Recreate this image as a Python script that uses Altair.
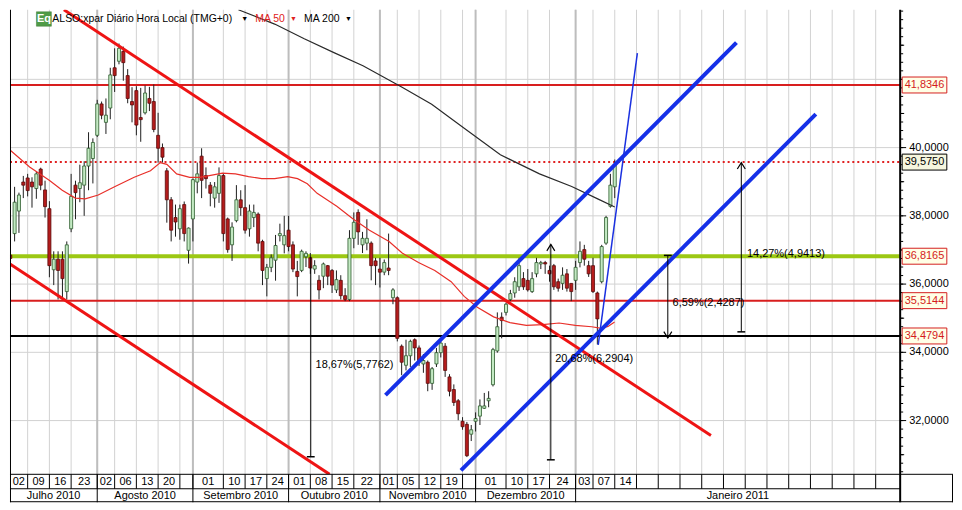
import altair as alt
import pandas as pd
import numpy as np

# ---------------- values ----------------
# trading-day index: 0 = 1 Jul 2010 ... 141 = 14 Jan 2011
candle_day = list(range(2, 142))
candle_open = [36.85, 37.48, 38.14, 38.99, 39.11, 38.99, 38.80, 39.37, 38.76, 38.21,
               36.42, 36.73, 36.73, 35.78, 37.62, 38.90, 38.80, 38.90, 39.46, 39.68,
               40.36, 41.28, 40.74, 41.16, 42.34, 42.53, 42.82, 42.11, 41.35, 41.67,
               40.88, 41.02, 41.44, 41.35, 40.36, 40.00, 39.32, 38.47, 37.95, 37.62,
               38.33, 36.99, 37.91, 38.99, 39.75, 39.18, 38.90, 38.52, 38.66, 39.18,
               37.91, 37.15, 37.86, 38.47, 38.24, 37.62, 37.95, 38.05, 37.25, 36.16,
               36.49, 36.70, 37.42, 37.15, 37.58, 37.15, 36.37, 36.40, 36.80, 36.77,
               36.44, 36.11, 36.23, 36.54, 36.40, 35.83, 36.11, 35.66, 35.55, 37.34,
               38.10, 37.15, 37.20, 37.20, 36.68, 36.44, 36.35, 36.47, 35.60, 35.60,
               34.18, 33.62, 33.90, 34.37, 34.13, 33.66, 33.71, 33.09, 33.66, 33.99,
               34.18, 33.28, 32.91, 32.58, 31.98, 31.89, 31.60, 31.98, 32.13, 32.36,
               32.58, 33.05, 34.04, 35.03, 35.17, 35.55, 35.74, 35.92, 36.16, 36.11,
               35.78, 36.30, 36.59, 36.63, 36.40, 36.54, 36.07, 36.02, 36.30, 36.02,
               36.11, 36.63, 37.01, 36.54, 36.54, 35.74, 36.07, 37.20, 38.28, 38.85]
candle_high = [37.00, 38.85, 38.68, 39.17, 39.23, 39.13, 39.30, 39.41, 39.03, 38.43,
               36.96, 36.96, 36.96, 37.25, 39.23, 39.03, 39.50, 39.60, 40.45, 40.27,
               41.40, 41.35, 41.44, 42.34, 42.91, 43.05, 42.96, 42.30, 41.77, 41.80,
               41.75, 41.82, 41.78, 41.85, 41.02, 40.12, 39.40, 38.55, 38.33, 38.33,
               38.42, 37.66, 39.09, 39.56, 39.98, 39.42, 38.99, 38.99, 39.42, 39.23,
               37.95, 37.81, 38.90, 38.75, 38.90, 38.33, 38.33, 38.10, 37.30, 36.59,
               36.87, 37.44, 37.77, 38.00, 38.00, 37.25, 36.68, 37.01, 36.96, 36.91,
               36.70, 36.26, 36.63, 36.56, 36.44, 36.40, 36.26, 35.88, 37.58, 38.10,
               38.19, 37.53, 37.90, 37.25, 36.77, 36.77, 36.72, 37.48, 35.88, 35.64,
               34.23, 34.37, 34.37, 34.41, 34.20, 33.95, 33.76, 33.57, 34.13, 34.32,
               34.27, 33.36, 33.06, 32.63, 32.10, 31.96, 31.87, 32.24, 32.62, 32.81,
               32.86, 34.13, 35.17, 35.17, 35.45, 35.83, 36.20, 36.77, 36.35, 36.44,
               36.35, 36.77, 36.68, 36.68, 36.54, 36.59, 36.16, 36.49, 36.44, 36.02,
               36.68, 37.25, 37.15, 36.68, 36.77, 35.78, 37.15, 38.00, 39.23, 39.65]
candle_low = [36.60, 37.25, 37.50, 38.52, 38.57, 38.24, 38.50, 38.75, 37.95, 36.20,
              35.97, 35.55, 35.62, 35.55, 37.52, 37.90, 38.40, 38.00, 38.75, 38.95,
              40.31, 40.83, 40.40, 40.83, 41.63, 42.44, 41.96, 41.30, 40.74, 40.36,
              40.17, 40.97, 41.07, 40.45, 39.56, 39.56, 37.80, 37.25, 37.39, 37.30,
              37.25, 36.60, 37.25, 38.66, 38.52, 38.80, 38.28, 38.24, 38.38, 37.25,
              36.92, 36.68, 37.81, 38.00, 37.48, 37.39, 37.67, 36.96, 35.97, 35.64,
              36.35, 36.10, 37.25, 36.90, 36.96, 36.35, 35.64, 36.35, 36.50, 36.30,
              36.30, 35.55, 35.88, 35.97, 35.74, 35.74, 35.55, 35.50, 35.50, 37.05,
              37.15, 36.91, 36.99, 36.11, 35.97, 35.90, 36.26, 36.26, 35.41, 34.32,
              33.33, 33.47, 33.57, 33.76, 33.60, 33.40, 32.86, 32.90, 33.57, 33.85,
              33.28, 32.71, 32.43, 32.01, 31.73, 30.93, 31.40, 31.68, 31.87, 32.34,
              32.39, 33.00, 33.99, 34.41, 35.08, 35.50, 35.60, 35.80, 35.83, 35.78,
              35.74, 36.20, 36.44, 36.30, 36.07, 35.83, 35.78, 35.83, 35.78, 35.50,
              35.83, 36.49, 36.54, 36.21, 35.74, 34.23, 36.02, 37.15, 38.24, 38.52]
candle_close = [36.75, 38.40, 38.61, 38.90, 38.74, 38.85, 39.23, 38.90, 38.27, 36.54,
                36.73, 36.40, 36.16, 37.15, 38.57, 38.68, 38.97, 39.46, 39.98, 40.15,
                41.28, 40.95, 40.95, 42.13, 42.11, 42.91, 42.49, 41.44, 41.25, 40.66,
                40.82, 41.60, 41.30, 40.53, 39.98, 39.72, 38.47, 37.58, 37.82, 38.21,
                37.48, 37.64, 39.06, 39.23, 39.04, 39.09, 38.66, 38.85, 39.18, 37.48,
                37.01, 37.67, 38.47, 38.24, 37.58, 38.14, 38.10, 37.20, 36.40, 36.49,
                36.77, 37.13, 37.48, 37.42, 37.10, 36.44, 36.22, 36.96, 36.90, 36.47,
                36.54, 35.83, 36.59, 36.23, 35.97, 36.13, 35.66, 35.55, 37.34, 37.81,
                37.53, 37.34, 37.34, 36.54, 36.54, 36.35, 36.63, 36.40, 35.83, 34.41,
                33.71, 33.90, 34.32, 34.13, 33.76, 33.76, 33.09, 33.52, 33.99, 34.27,
                33.47, 32.86, 32.53, 32.20, 31.82, 30.97, 31.73, 32.06, 32.43, 32.43,
                32.65, 34.08, 34.75, 34.93, 35.41, 35.72, 36.07, 36.54, 35.92, 35.83,
                36.16, 36.63, 36.63, 36.59, 36.30, 35.92, 35.88, 36.26, 35.88, 35.78,
                36.49, 36.96, 36.73, 36.30, 35.78, 34.98, 37.10, 37.95, 38.90, 39.51]

ma50_day = [1.94, 6.45, 10.96, 13.95, 16.97, 19.23, 22.23, 25.99, 30.50, 34.24,
            36.50, 38.01, 40.26, 43.26, 45.52, 47.77, 50.79, 53.79, 56.79, 59.81,
            62.80, 65.80, 68.06, 70.31, 72.57, 77.08, 80.84, 84.60, 89.11, 92.11,
            95.87, 99.62, 103.38, 106.38, 109.40, 113.15, 116.90, 120.67, 124.40, 128.20,
            131.94, 135.69, 137.95, 139.45, 140.96]
ma50_val = [39.93, 39.43, 39.04, 38.75, 38.52, 38.50, 38.61, 38.85, 39.13, 39.32,
            39.56, 39.51, 39.23, 39.13, 39.13, 39.18, 39.25, 39.23, 39.15, 39.09,
            39.09, 39.15, 39.09, 38.94, 38.66, 38.28, 37.91, 37.58, 37.25, 36.91,
            36.63, 36.40, 36.07, 35.64, 35.32, 35.04, 34.87, 34.79, 34.81, 34.86,
            34.79, 34.75, 34.70, 34.76, 34.89]
ma200_day = [54.46, 62.8, 69.6, 76.3, 83.1, 92.1, 98.9, 105.6, 114.7, 123.7, 131.1, 137.2, 141.0]
ma200_val = [44.04, 43.62, 43.19, 42.79, 42.40, 41.77, 41.27, 40.64, 39.79, 39.23, 38.86, 38.49, 38.26]

level_red = [41.8346, 35.5144]
level_dotted = [39.5750]
level_green = [36.8165]
level_black = [34.4794]

red_upper_day, red_upper_val = [14.34, 163.12], [44.039, 31.56]
red_lower_day, red_lower_val = [1.94, 75.43], [36.587, 30.425]
blue_upper_day, blue_upper_val = [88.28, 168.98], [32.745, 43.077]
blue_lower_day, blue_lower_val = [105.64, 187.24], [30.538, 40.98]
blue_steep_day, blue_steep_val = [137.2, 146.2], [34.22, 42.77]

meas_day = [71.1, 126.3, 153.2, 170.1]
meas_lo = [30.94, 30.85, 34.42, 34.60]
meas_hi = [36.80, 37.16, 36.84, 39.56]
meas_tick = [30.94, 30.85, 36.84, 34.60]
meas_up_arrow_day, meas_up_arrow_val = [126.3, 170.1], [37.16, 39.56]
meas_down_arrow_day, meas_down_arrow_val = [153.2], [34.42]
meas_text = ["18,67%(5,7762)", "20,68%(6,2904)", "6,59%(2,4287)", "14,27%(4,9413)"]
meas_text_day = [72.2, 127.3, 154.3, 171.4]
meas_text_val = [33.62, 33.80, 35.45, 36.87]

grid_val = [32, 34, 36, 38, 40, 42]
axis_label_val = [32, 34, 36, 38, 40]

sep_day = [1, 6, 11, 16, 22, 26, 31, 36, 41, 44, 51, 56, 61, 66, 71, 76, 81, 87, 91, 96,
           101, 106, 109, 116, 121, 126, 132, 136, 141, 146, 151, 156, 161, 166, 171,
           176, 181, 186, 191, 196, 201]
sep_label = ["02", "09", "16", "23", "02", "06", "13", "20", "", "01", "10", "17", "24",
             "01", "08", "15", "22", "01", "05", "12", "19", "", "01", "10", "17", "24",
             "03", "07", "14", "", "", "", "", "", "", "", "", "", "", "", ""]
month_day = [0, 22, 44, 66, 87, 109, 132]
month_name = ["Julho 2010", "Agosto 2010", "Setembro 2010", "Outubro 2010",
              "Novembro 2010", "Dezembro 2010", "Janeiro 2011"]

# ---------------- layout ----------------
W, H = 893, 466
X0, X1 = 1.94, 206.63
Y0, Y1 = 30.425, 44.039
FONT = "Liberation Sans"
GRID = "#d2d2d2"
xs = alt.Scale(domain=[X0, X1], nice=False, zero=False)
ys = alt.Scale(domain=[Y0, Y1], nice=False, zero=False)


def xq(f):
    return alt.X(f, type="quantitative", scale=xs, axis=None)


def yq(f):
    return alt.Y(f, type="quantitative", scale=ys, axis=None)


def fmt(v):
    return f"{v:.4f}".replace(".", ",")


one = pd.DataFrame({"k": [0]})

candles = pd.DataFrame({"day": candle_day, "o": candle_open, "h": candle_high,
                        "l": candle_low, "c": candle_close})

# cells of the date band
cells = []
for k, d in enumerate(sep_day):
    end = sep_day[k + 1] if k + 1 < len(sep_day) else X1
    start = max(d, X0)
    cells.append({"d": d, "mid": (start + end) / 2, "lab": sep_label[k]})
cells = pd.DataFrame(cells)
mcells = []
for k, d in enumerate(month_day):
    end = month_day[k + 1] if k + 1 < len(month_day) else X1
    start = max(d, X0)
    mcells.append({"d": d, "mid": (start + end) / 2, "lab": month_name[k]})
mcells = pd.DataFrame(mcells)
vis_cells = cells[cells["d"] >= X0]
vis_months = mcells[mcells["d"] >= X0]

layers = []

# horizontal grid
layers.append(alt.Chart(pd.DataFrame({"v": grid_val})).mark_rule(color=GRID, strokeWidth=1).encode(
    y=yq("v"), x=alt.value(0), x2=alt.value(W)))

# vertical grid
layers.append(alt.Chart(vis_cells).mark_rule(color=GRID, strokeWidth=1).encode(
    x=xq("d"), y=alt.value(0), y2=alt.value(H)))
layers.append(alt.Chart(vis_months).mark_rule(color="#bdbdbd", strokeWidth=2).encode(
    x=xq("d"), y=alt.value(0), y2=alt.value(H)))

# price axis: ticks and labels
minor = pd.DataFrame({"v": np.arange(30.5, 44.01, 0.25)})
layers.append(alt.Chart(minor).mark_rule(color="black", strokeWidth=1).encode(
    y=yq("v"), x=alt.value(W), x2=alt.value(W + 3)))
mid_ticks = pd.DataFrame({"v": [31, 33, 35, 37, 39, 41, 43]})
layers.append(alt.Chart(mid_ticks).mark_rule(color="black", strokeWidth=1).encode(
    y=yq("v"), x=alt.value(W), x2=alt.value(W + 4)))
major = pd.DataFrame({"v": grid_val})
layers.append(alt.Chart(major).mark_rule(color="black", strokeWidth=1).encode(
    y=yq("v"), x=alt.value(W), x2=alt.value(W + 6)))
axis_lab = pd.DataFrame({"v": axis_label_val})
axis_lab["lab"] = axis_lab["v"].map(fmt)
layers.append(alt.Chart(axis_lab).mark_text(align="left", baseline="middle", font=FONT,
                                            fontSize=11, color="black").encode(
    x=alt.value(W + 9), y=yq("v"), text="lab:N"))

# horizontal levels
layers.append(alt.Chart(pd.DataFrame({"v": level_green})).mark_rule(color="#9cc814", strokeWidth=4).encode(
    y=yq("v"), x=alt.value(0), x2=alt.value(W)))
layers.append(alt.Chart(pd.DataFrame({"v": level_red})).mark_rule(color="#d81e1e", strokeWidth=2).encode(
    y=yq("v"), x=alt.value(0), x2=alt.value(W)))
layers.append(alt.Chart(pd.DataFrame({"v": level_dotted})).mark_rule(color="#e02020", strokeWidth=2, strokeDash=[2, 3]).encode(
    y=yq("v"), x=alt.value(0), x2=alt.value(W)))
layers.append(alt.Chart(pd.DataFrame({"v": level_black})).mark_rule(color="black", strokeWidth=2).encode(
    y=yq("v"), x=alt.value(0), x2=alt.value(W)))

# candles
layers.append(alt.Chart(candles).mark_rule(color="#1e1e1e", strokeWidth=1, clip=True).encode(
    x=xq("day"), y=yq("l"), y2=alt.Y2("h")))
layers.append(alt.Chart(candles).transform_calculate(
    x0="datum.day - 0.35", x1="datum.day + 0.35").mark_rect(strokeWidth=0.8, clip=True).encode(
    x=xq("x0"), x2=alt.X2("x1"), y=yq("o"), y2=alt.Y2("c"),
    fill=alt.condition("datum.c >= datum.o", alt.value("#c3eac3"), alt.value("#b51c1c")),
    stroke=alt.condition("datum.c >= datum.o", alt.value("#2c5a2c"), alt.value("#5a0a0a"))))

# moving averages
layers.append(alt.Chart(pd.DataFrame({"d": ma50_day, "v": ma50_val})).mark_line(
    color="#e8302a", strokeWidth=1.2, clip=True).encode(x=xq("d"), y=yq("v"), order="d:Q"))
layers.append(alt.Chart(pd.DataFrame({"d": ma200_day, "v": ma200_val})).mark_line(
    color="#2a2a2a", strokeWidth=1.2, clip=True).encode(x=xq("d"), y=yq("v"), order="d:Q"))


def seg(days, vals, name):
    return pd.DataFrame({"d": days, "v": vals, "id": name})


red_tr = pd.concat([seg(red_upper_day, red_upper_val, "a"), seg(red_lower_day, red_lower_val, "b")])
blue_tr = pd.concat([seg(blue_upper_day, blue_upper_val, "a"), seg(blue_lower_day, blue_lower_val, "b")])
layers.append(alt.Chart(red_tr).mark_line(color="#ee1414", strokeWidth=3, clip=True).encode(
    x=xq("d"), y=yq("v"), detail="id:N"))
layers.append(alt.Chart(blue_tr).mark_line(color="#1530e8", strokeWidth=4, clip=True).encode(
    x=xq("d"), y=yq("v"), detail="id:N"))
layers.append(alt.Chart(seg(blue_steep_day, blue_steep_val, "c")).mark_line(
    color="#1a30e0", strokeWidth=1.5, clip=True).encode(x=xq("d"), y=yq("v")))

# measurement arrows
meas = pd.DataFrame({"d": meas_day, "lo": meas_lo, "hi": meas_hi, "t": meas_tick})
layers.append(alt.Chart(meas).mark_rule(color="black", strokeWidth=1).encode(
    x=xq("d"), y=yq("lo"), y2=alt.Y2("hi")))
layers.append(alt.Chart(meas).transform_calculate(
    a="datum.d - 0.9", b="datum.d + 0.9").mark_rule(color="black", strokeWidth=1.5).encode(
    x=xq("a"), x2=alt.X2("b"), y=yq("t")))
layers.append(alt.Chart(pd.DataFrame({"d": meas_up_arrow_day, "v": meas_up_arrow_val})).mark_point(
    shape="M -1 1.6 L 0 0 L 1 1.6", filled=False, size=64, stroke="black", strokeWidth=1.2, opacity=1).encode(
    x=xq("d"), y=yq("v")))
layers.append(alt.Chart(pd.DataFrame({"d": meas_down_arrow_day, "v": meas_down_arrow_val})).mark_point(
    shape="M -1 -1.6 L 0 0 L 1 -1.6", filled=False, size=64, stroke="black", strokeWidth=1.2, opacity=1).encode(
    x=xq("d"), y=yq("v")))
layers.append(alt.Chart(pd.DataFrame({"d": meas_text_day, "v": meas_text_val, "s": meas_text})).mark_text(
    align="left", baseline="middle", font=FONT, fontSize=11, color="black").encode(
    x=xq("d"), y=yq("v"), text="s:N"))

# price boxes on the axis
BOX = "M -2.8 -1 L 2.8 -1 L 2.8 1 L -2.8 1 Z"
red_box = pd.DataFrame({"v": level_red + level_green + level_black})
red_box["lab"] = red_box["v"].map(fmt)
dot_box = pd.DataFrame({"v": level_dotted})
dot_box["lab"] = dot_box["v"].map(fmt)
layers.append(alt.Chart(red_box).mark_point(shape=BOX, size=256, filled=True, fill="#ffffe6",
                                            stroke="#d42020", strokeWidth=1, opacity=1).encode(
    x=alt.value(W + 24.4), y=yq("v")))
layers.append(alt.Chart(dot_box).mark_point(shape=BOX, size=256, filled=True, fill="#f6f6de",
                                            stroke="black", strokeWidth=1, opacity=1).encode(
    x=alt.value(W + 24.4), y=yq("v")))
layers.append(alt.Chart(red_box).mark_text(align="left", baseline="middle", font=FONT, fontSize=11,
                                           color="#d41c1c").encode(
    x=alt.value(W + 4.5), y=yq("v"), text="lab:N"))
layers.append(alt.Chart(dot_box).mark_text(align="left", baseline="middle", font=FONT, fontSize=11,
                                           color="black").encode(
    x=alt.value(W + 4.5), y=yq("v"), text="lab:N"))

# date band below the plot
R1, R2 = H + 14.5, H + 28


def hline(y, x1, x2, w=1):
    return alt.Chart(one).mark_rule(color="black", strokeWidth=w).encode(
        x=alt.value(x1), x2=alt.value(x2), y=alt.value(y))


def vline(x, y1, y2, w=1):
    return alt.Chart(one).mark_rule(color="black", strokeWidth=w).encode(
        x=alt.value(x), y=alt.value(y1), y2=alt.value(y2))


layers += [hline(H, 0, W + 53), hline(R1, 0, W), hline(R2 - 0.5, 0, W + 53),
           vline(0.5, 0, R2), vline(W, 0, R2, 2), vline(W + 52.5, H, R2)]
layers.append(alt.Chart(vis_cells).mark_rule(color="black", strokeWidth=1).encode(
    x=xq("d"), y=alt.value(H), y2=alt.value(R1)))
layers.append(alt.Chart(vis_months).mark_rule(color="black", strokeWidth=1).encode(
    x=xq("d"), y=alt.value(H), y2=alt.value(R2)))
layers.append(alt.Chart(cells).mark_text(align="center", baseline="middle", font=FONT, fontSize=11,
                                         color="black").encode(
    x=xq("mid"), y=alt.value(H + 7.5), text="lab:N"))
layers.append(alt.Chart(mcells).mark_text(align="center", baseline="middle", font=FONT, fontSize=11,
                                          color="black").encode(
    x=xq("mid"), y=alt.value(R1 + 7), text="lab:N"))

# header
layers.append(alt.Chart(one).mark_rect(fill="#4f9b46", stroke="#3c7a35", strokeWidth=0.5).encode(
    x=alt.value(26.5), x2=alt.value(41.5), y=alt.value(2), y2=alt.value(16.5)))


def ptext(txt, x, color="black", size=10.5, weight="normal", align="left", y=9.5):
    return alt.Chart(one).mark_text(text=txt, align=align, baseline="middle", font=FONT,
                                    fontSize=size, fontWeight=weight, color=color).encode(
        x=alt.value(x), y=alt.value(y))


layers += [
    ptext("Eq", 34, color="white", size=11, weight="bold", align="center"),
    ptext("ALSO:xpar Diário Hora Local (TMG+0)", 42.5),
    ptext("▼", 232, size=7),
    ptext("MA 50", 246, color="#e02020"),
    ptext("▼", 281, color="#e02020", size=7),
    ptext("MA 200", 295),
    ptext("▼", 336, size=7),
]

chart = alt.layer(*layers).properties(width=W, height=H, padding=0).configure_view(stroke=None)
chart.save("out.html", embed_options={"renderer": "svg", "actions": False})
